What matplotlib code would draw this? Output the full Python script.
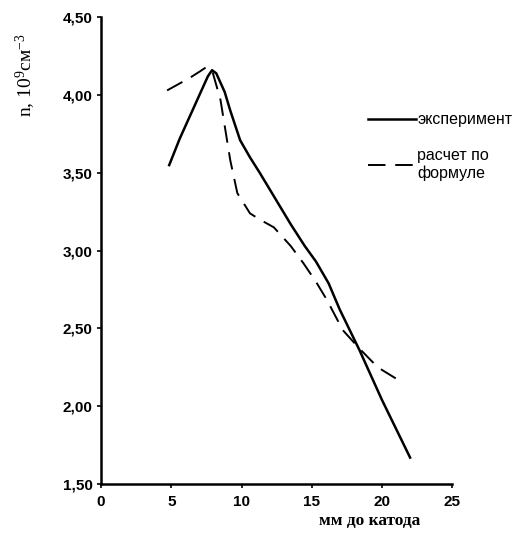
import matplotlib
matplotlib.use('Agg')
from matplotlib import pyplot as plt

plt.rcParams['mathtext.fontset'] = 'custom'
plt.rcParams['mathtext.rm'] = 'Liberation Serif'
plt.rcParams['mathtext.it'] = 'Liberation Serif'

# experiment (solid)
x_exp = [4.85, 5.6, 6.4, 7.2, 7.6, 7.9, 8.2, 8.8, 9.2, 9.9, 10.6, 11.3, 12.5, 13.5, 14.5, 15.3, 16.2, 17.0, 18.4, 20.0, 22.0]
n_exp = [3.55, 3.72, 3.88, 4.04, 4.12, 4.16, 4.14, 4.02, 3.90, 3.71, 3.60, 3.50, 3.32, 3.17, 3.03, 2.93, 2.79, 2.62, 2.36, 2.04, 1.67]

# formula (dashed)
x_calc = [4.7, 5.5, 6.3, 7.0, 7.5, 7.9, 8.5, 9.2, 9.7, 10.6, 11.3, 12.3, 13.5, 14.4, 15.3, 16.1, 17.2, 18.4, 19.7, 20.6, 21.5]
n_calc = [4.03, 4.07, 4.11, 4.15, 4.18, 4.16, 3.97, 3.58, 3.37, 3.24, 3.20, 3.15, 3.03, 2.92, 2.80, 2.68, 2.49, 2.37, 2.25, 2.20, 2.15]

yticks = [1.5, 2.0, 2.5, 3.0, 3.5, 4.0, 4.5]
xticks = [0, 5, 10, 15, 20, 25]

fig = plt.figure(figsize=(5.21, 5.34), dpi=100)
ax = fig.add_axes([0.194, 0.0936, 0.674, 0.874])

ax.plot(x_exp, n_exp, color='black', lw=1.8, label='эксперимент')
ax.plot(x_calc, n_calc, color='black', lw=1.4, dashes=(9, 5), label='расчет по\nформуле')

ax.set_xlim(0, 25)
ax.set_ylim(1.5, 4.5)
ax.set_xticks(xticks)
ax.set_yticks(yticks)
ax.set_xticklabels([str(v) for v in xticks])
ax.set_yticklabels([f'{v:.2f}'.replace('.', ',') for v in yticks])
for lab in ax.get_xticklabels() + ax.get_yticklabels():
    lab.set_fontfamily('Liberation Sans')
    lab.set_fontweight('bold')
    lab.set_fontsize(11)
ax.tick_params(length=3, width=1.2, pad=3)
ax.tick_params(axis='x', pad=5)

ax.spines['top'].set_visible(False)
ax.spines['right'].set_visible(False)
ax.spines['left'].set_linewidth(1.8)
ax.spines['bottom'].set_linewidth(1.8)

ax.set_ylabel('n, 10$^{9}$см$^{-3}$', fontfamily='Liberation Serif', fontsize=14)
ax.yaxis.set_label_coords(-0.18, 0.875)
ax.set_xlabel('мм до катода', fontfamily='Liberation Serif', fontweight='bold', fontsize=12.5)
ax.xaxis.set_label_coords(0.766, -0.062)

leg = ax.legend(loc='upper left', bbox_to_anchor=(0.678, 0.817), bbox_transform=fig.transFigure,
                frameon=False, handlelength=3.0, handletextpad=0.1, labelspacing=1.3,
                prop={'family': 'Liberation Sans', 'size': 11.5})

fig.savefig('out.png', dpi=100)
